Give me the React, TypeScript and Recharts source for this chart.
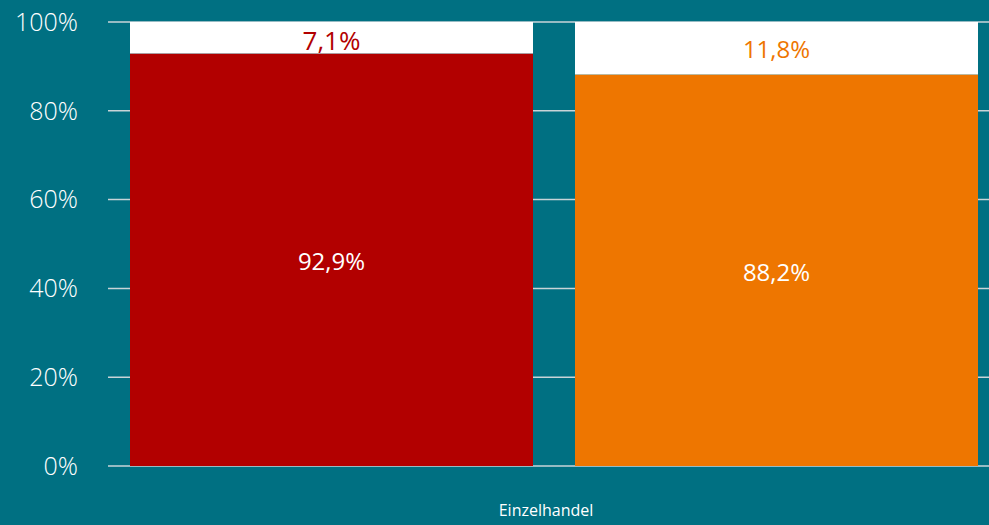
import { Bar, BarChart, CartesianGrid, LabelList, XAxis, YAxis } from "recharts";

const categories = ["Einzelhandel"];
const redShare = [92.9];
const redRest = [7.1];
const orangeShare = [88.2];
const orangeRest = [11.8];
const yTicks = [0, 20, 40, 60, 80, 100];

const BG = "#007082";
const RED = "#b20000";
const ORANGE = "#ee7600";
const FONT = "'Segoe UI', 'Open Sans', 'Noto Sans', sans-serif";

const data = categories.map((name, i) => ({
  name,
  red: redShare[i],
  redRest: redRest[i],
  orange: orangeShare[i],
  orangeRest: orangeRest[i],
}));

const pct = (v: unknown) => `${String(v).replace(".", ",")}%`;

export default function App() {
  return (
    <div style={{ position: "absolute", left: 0, top: 0, width: 989, height: 525, background: BG, fontFamily: FONT }}>
      <BarChart
        width={989}
        height={525}
        data={data}
        margin={{ top: 22, right: 0, bottom: 0, left: 0 }}
        barGap={42}
        barCategoryGap={11}
      >
        <CartesianGrid vertical={false} stroke="#c8d4d8" strokeWidth={1.5} />
        <XAxis
          dataKey="name"
          axisLine={false}
          tickLine={false}
          height={59}
          padding={{ left: 11, right: 0 }}
          tickMargin={33}
          tick={{ fill: "#ffffff", fontSize: 16, fontFamily: FONT, dx: -8 }}
        />
        <YAxis
          domain={[0, 100]}
          ticks={yTicks}
          tickFormatter={(v) => `${v}%`}
          axisLine={false}
          tickLine={false}
          width={108}
          tickMargin={24}
          tick={{ fill: "#ffffff", fontSize: 25, fontFamily: FONT, fontWeight: 300 }}
        />
        <Bar dataKey="red" stackId="a" fill={RED} isAnimationActive={false}>
          <LabelList dataKey="red" position="center" formatter={pct} fill="#ffffff" fontSize={24} fontFamily={FONT} dy={2} />
        </Bar>
        <Bar dataKey="redRest" stackId="a" fill="#ffffff" isAnimationActive={false}>
          <LabelList dataKey="redRest" position="center" formatter={pct} fill={RED} fontSize={26} fontFamily={FONT} dy={3} />
        </Bar>
        <Bar dataKey="orange" stackId="b" fill={ORANGE} isAnimationActive={false}>
          <LabelList dataKey="orange" position="center" formatter={pct} fill="#ffffff" fontSize={24} fontFamily={FONT} dy={2} />
        </Bar>
        <Bar dataKey="orangeRest" stackId="b" fill="#ffffff" isAnimationActive={false}>
          <LabelList dataKey="orangeRest" position="center" formatter={pct} fill={ORANGE} fontSize={24} fontFamily={FONT} dy={1} />
        </Bar>
      </BarChart>
    </div>
  );
}
